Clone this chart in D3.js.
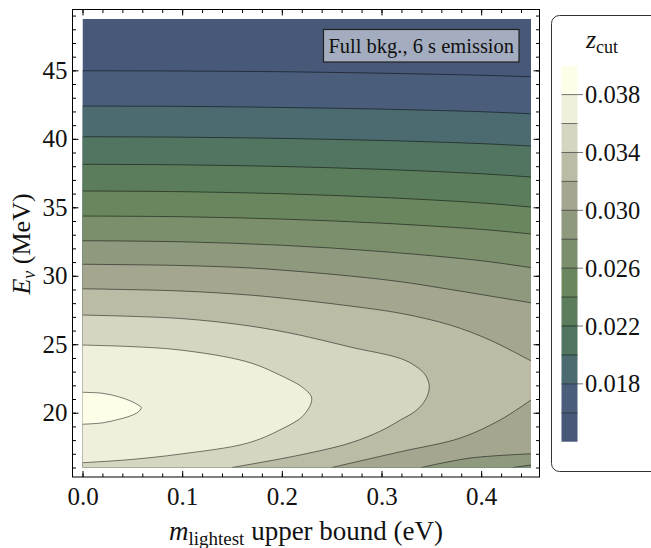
<!DOCTYPE html>
<html>
<head>
<meta charset="utf-8">
<script src="https://cdn.jsdelivr.net/npm/d3@7"></script>
<style>
  body { margin: 0; background: #fff; }
  text { font-family: "Liberation Serif", "Times New Roman", serif; fill: #111; }
</style>
</head>
<body>
<div id="chart"></div>
<script>
// z_cut contour levels and the fill of every band between them
const bandEdges = [0.014, 0.016, 0.018, 0.020, 0.022, 0.024, 0.026, 0.028, 0.030, 0.032, 0.034, 0.036, 0.038, 0.040];
const bandColors = ["#475878", "#4a5e7b", "#4b6b70", "#527561", "#5c7d5c", "#6a865f", "#7c8f6c",
                    "#8f997e", "#a4a690", "#bcbba5", "#d6d5c1", "#f0efdb", "#fdfde8"];

const xTicks = [0, 0.1, 0.2, 0.3, 0.4];
const yTicks = [20, 25, 30, 35, 40, 45];
const barTicks = [0.018, 0.022, 0.026, 0.030, 0.034, 0.038];

// contour lines, points are [m_lightest (eV), E_nu (MeV)]
const z016 = [[0, 44.97], [0.1, 44.95], [0.2, 44.90], [0.3, 44.79], [0.4, 44.64], [0.45, 44.53]];
const z018 = [[0, 42.39], [0.1, 42.37], [0.2, 42.29], [0.3, 42.17], [0.4, 41.98], [0.45, 41.83]];
const z020 = [[0, 40.15], [0.1, 40.12], [0.2, 40.03], [0.3, 39.88], [0.4, 39.65], [0.45, 39.47]];
const z022 = [[0, 38.14], [0.1, 38.10], [0.2, 37.98], [0.3, 37.77], [0.4, 37.45], [0.45, 37.21]];
const z024 = [[0, 36.19], [0.1, 36.14], [0.2, 35.99], [0.3, 35.72], [0.4, 35.32], [0.45, 35.02]];
const z026 = [[0, 34.36], [0.1, 34.31], [0.2, 34.14], [0.3, 33.84], [0.4, 33.39], [0.45, 33.05]];
const z028 = [[0, 32.56], [0.1, 32.48], [0.2, 32.23], [0.3, 31.77], [0.4, 31.10], [0.45, 30.59]];
const z028lo = [[0.45, 16.18], [0.432, 16.0]];
const z030 = [[0, 30.84], [0.098, 30.75], [0.168, 30.57], [0.218, 30.31], [0.269, 29.98],
              [0.319, 29.57], [0.369, 29.00], [0.409, 28.52], [0.45, 28.03]];
const z030lo = [[0.45, 17.0], [0.389, 16.69], [0.34, 16.0]];
const z032 = [[0, 29.05], [0.098, 28.89], [0.168, 28.59], [0.218, 28.23], [0.269, 27.79],
              [0.319, 27.26], [0.369, 26.40], [0.409, 25.30], [0.45, 23.78]];
const z032lo = [[0.45, 20.93], [0.419, 19.47], [0.379, 18.15], [0.319, 17.15], [0.25, 16.0]];
const z034 = [[0, 27.13], [0.098, 26.88], [0.168, 26.33], [0.218, 25.67], [0.269, 24.79],
              [0.319, 23.96], [0.334, 23.41], [0.344, 22.75], [0.348, 21.90], [0.344, 20.93],
              [0.334, 20.12], [0.319, 19.47], [0.299, 18.66], [0.268, 17.78], [0.218, 16.91], [0.150, 16.0]];
const z036 = [[0, 24.94], [0.048, 24.83], [0.098, 24.58], [0.165, 23.72], [0.198, 22.75],
              [0.222, 21.78], [0.230, 21.05], [0.222, 19.83], [0.198, 18.74], [0.165, 17.77],
              [0.098, 16.98], [0.048, 16.58], [0, 16.35]];
const z038 = [[0, 21.49], [0.020, 21.42], [0.036, 21.17], [0.050, 20.80], [0.057, 20.51], [0.059, 20.39],
              [0.057, 20.12], [0.050, 19.82], [0.036, 19.51], [0.020, 19.26], [0, 19.16]];

const contours = [
  {level: 0.016, branches: [z016]},
  {level: 0.018, branches: [z018]},
  {level: 0.020, branches: [z020]},
  {level: 0.022, branches: [z022]},
  {level: 0.024, branches: [z024]},
  {level: 0.026, branches: [z026]},
  {level: 0.028, branches: [z028, z028lo]},
  {level: 0.030, branches: [z030, z030lo]},
  {level: 0.032, branches: [z032, z032lo]},
  {level: 0.034, branches: [z034]},
  {level: 0.036, branches: [z036]},
  {level: 0.038, branches: [z038]}
];

const W = 651, H = 548;
const frame = {left: 72.5, right: 539.5, top: 9.5, bottom: 477};

const svg = d3.select("#chart").append("svg")
    .attr("width", W)
    .attr("height", H);

const x = d3.scaleLinear().domain([0, 0.45]).range([82.5, 531]);
const y = d3.scaleLinear().domain([16, 48.75]).range([467.5, 19]);

const line = d3.line()
    .x(d => x(d[0]))
    .y(d => y(d[1]))
    .curve(d3.curveCatmullRom.alpha(0.5));

// region above a level: follow its branches, then close along the plot edges
function regionPath(branches) {
  let p = "";
  branches.forEach((b, i) => {
    const s = line(b);
    p += i ? "L" + s.slice(1) : s;
  });
  const last = branches[branches.length - 1][branches[branches.length - 1].length - 1];
  const [m0, m1] = x.domain(), e0 = y.domain()[0];
  if (last[0] === m1) p += "L" + x(m1) + "," + y(e0);
  if (last[0] !== m0) p += "L" + x(m0) + "," + y(e0);
  return p + "Z";
}

svg.append("clipPath").attr("id", "plotclip")
  .append("rect")
    .attr("x", x(0)).attr("y", y(48.75))
    .attr("width", x(0.45) - x(0)).attr("height", y(16) - y(48.75));

const plot = svg.append("g").attr("clip-path", "url(#plotclip)");

plot.append("rect")
    .attr("x", x(0)).attr("y", y(48.75))
    .attr("width", x(0.45) - x(0)).attr("height", y(16) - y(48.75))
    .attr("fill", bandColors[0]);

plot.selectAll("path.band")
  .data(contours)
  .enter().append("path")
    .attr("class", "band")
    .attr("d", d => regionPath(d.branches))
    .attr("fill", (d, i) => bandColors[i + 1]);

plot.selectAll("path.iso")
  .data(contours.flatMap(c => c.branches))
  .enter().append("path")
    .attr("class", "iso")
    .attr("d", line)
    .attr("fill", "none")
    .attr("stroke", "#000")
    .attr("stroke-opacity", 0.5)
    .attr("stroke-width", 1);

// frame with inward ticks on all four sides
svg.append("rect")
    .attr("x", frame.left).attr("y", frame.top)
    .attr("width", frame.right - frame.left).attr("height", frame.bottom - frame.top)
    .attr("fill", "none").attr("stroke", "#000").attr("stroke-width", 1);

const xMinor = d3.range(0, 0.441, 0.02);
const yMinor = d3.range(16, 49.5, 1);

function styleAxis(g, fontSize) {
  g.select(".domain").remove();
  g.selectAll(".tick line").attr("stroke", "#000");
  g.selectAll("text").attr("font-size", fontSize).attr("fill", "#111");
}

svg.append("g").attr("transform", `translate(0,${frame.bottom})`)
  .call(d3.axisBottom(x).tickValues(xMinor).tickSize(-3.5).tickFormat(""))
  .call(g => styleAxis(g, 0));
svg.append("g").attr("transform", `translate(0,${frame.bottom})`)
  .call(d3.axisBottom(x).tickValues(xTicks).tickSize(-6).tickPadding(10).tickFormat(d3.format(".1f")))
  .call(g => styleAxis(g, 25));
svg.append("g").attr("transform", `translate(0,${frame.top})`)
  .call(d3.axisTop(x).tickValues(xMinor).tickSize(-3.5).tickFormat(""))
  .call(g => styleAxis(g, 0));
svg.append("g").attr("transform", `translate(0,${frame.top})`)
  .call(d3.axisTop(x).tickValues(xTicks).tickSize(-6).tickFormat(""))
  .call(g => styleAxis(g, 0));

svg.append("g").attr("transform", `translate(${frame.left},0)`)
  .call(d3.axisLeft(y).tickValues(yMinor).tickSize(-3.5).tickFormat(""))
  .call(g => styleAxis(g, 0));
svg.append("g").attr("transform", `translate(${frame.left},0)`)
  .call(d3.axisLeft(y).tickValues(yTicks).tickSize(-6).tickPadding(5))
  .call(g => styleAxis(g, 25));
svg.append("g").attr("transform", `translate(${frame.right},0)`)
  .call(d3.axisRight(y).tickValues(yMinor).tickSize(-3.5).tickFormat(""))
  .call(g => styleAxis(g, 0));
svg.append("g").attr("transform", `translate(${frame.right},0)`)
  .call(d3.axisRight(y).tickValues(yTicks).tickSize(-6).tickFormat(""))
  .call(g => styleAxis(g, 0));

// axis titles
const xt = svg.append("text")
    .attr("x", 306).attr("y", 540)
    .attr("text-anchor", "middle")
    .attr("font-size", 27);
xt.append("tspan").attr("font-style", "italic").text("m");
xt.append("tspan").attr("font-size", 19).attr("dy", 5).text("lightest");
xt.append("tspan").attr("dy", -5).text(" upper bound (eV)");

const yt = svg.append("text")
    .attr("transform", "translate(30,244) rotate(-90)")
    .attr("text-anchor", "middle")
    .attr("font-size", 26);
yt.append("tspan").attr("font-style", "italic").text("E");
yt.append("tspan").attr("font-style", "italic").attr("font-size", 18).attr("dy", 5).text("ν");
yt.append("tspan").attr("dy", -5).text(" (MeV)");

// plot label
const lab = svg.append("g");
lab.append("rect")
    .attr("x", 323.5).attr("y", 29.5).attr("width", 195.5).attr("height", 32.5)
    .attr("fill", "#a4adbf").attr("stroke", "#222").attr("stroke-width", 1.2);
lab.append("text")
    .attr("x", 421.25).attr("y", 52.5)
    .attr("text-anchor", "middle")
    .attr("font-size", 20.5)
    .text("Full bkg., 6 s emission");

// colour bar legend
const zb = d3.scaleLinear().domain([0.014, 0.040]).range([441.7, 65.7]);
const bar = svg.append("g");

bar.append("rect")
    .attr("x", 551.5).attr("y", 15.5).attr("width", 130).attr("height", 456)
    .attr("rx", 8)
    .attr("fill", "#fff").attr("stroke", "#333").attr("stroke-width", 1);

const barBands = d3.pairs(bandEdges);
bar.selectAll("rect.cb")
  .data(barBands)
  .enter().append("rect")
    .attr("class", "cb")
    .attr("x", 561.5).attr("width", 16)
    .attr("y", d => zb(d[1]))
    .attr("height", d => zb(d[0]) - zb(d[1]))
    .attr("fill", (d, i) => bandColors[i]);

bar.selectAll("line.cl")
  .data(contours.map(c => c.level))
  .enter().append("line")
    .attr("class", "cl")
    .attr("x1", 561.5)
    .attr("x2", d => barTicks.some(t => Math.abs(t - d) < 1e-9) ? 583 : 577.5)
    .attr("y1", d => zb(d)).attr("y2", d => zb(d))
    .attr("stroke", "#000").attr("stroke-opacity", 0.55).attr("stroke-width", 1);

bar.selectAll("text.cbt")
  .data(barTicks)
  .enter().append("text")
    .attr("class", "cbt")
    .attr("x", 585)
    .attr("y", d => zb(d))
    .attr("dy", "0.35em")
    .attr("font-size", 24.5)
    .text(d => d3.format(".3f")(d));

const zt = bar.append("text")
    .attr("x", 602).attr("y", 48)
    .attr("text-anchor", "middle")
    .attr("font-size", 26);
zt.append("tspan").attr("font-style", "italic").text("z");
zt.append("tspan").attr("font-size", 18).attr("dy", 5).text("cut");
</script>
</body>
</html>
